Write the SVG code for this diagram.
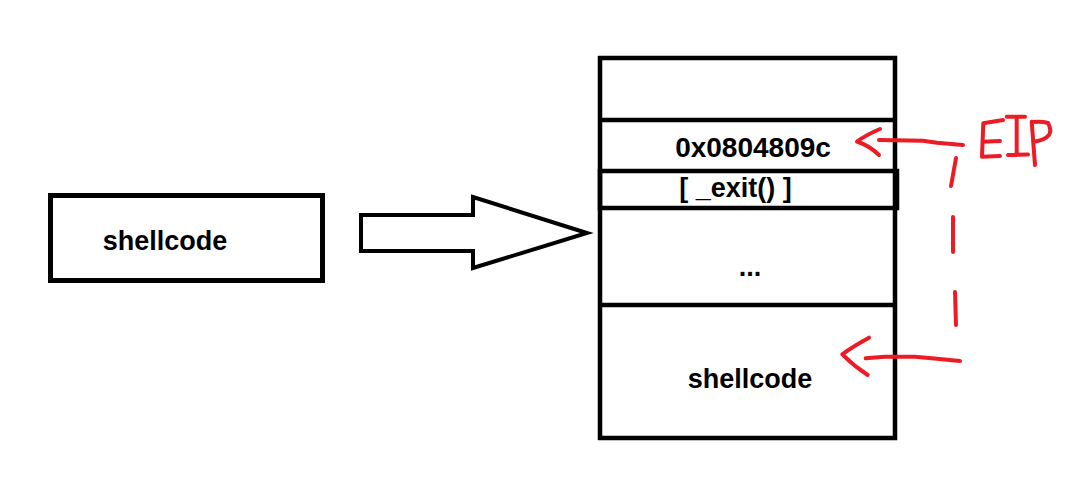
<svg xmlns="http://www.w3.org/2000/svg" width="1071" height="477" viewBox="0 0 1071 477">
<style>
.box{fill:#fff;stroke:#000;stroke-width:4.5}
.ln{stroke:#000;stroke-width:4.5;fill:none}
.t{font-family:"Liberation Sans",Arial,sans-serif;font-weight:bold;font-size:27px;fill:#000;text-anchor:middle}
.red{stroke:#ed1c24;stroke-width:4;fill:none;stroke-linecap:round;stroke-linejoin:round}
</style>
<rect width="1071" height="477" fill="#fff"/>
<g id="shellcode-src">
<rect class="box" x="50.5" y="195.5" width="272" height="85" style="stroke-width:5"/>
<text class="t" x="165" y="250">shellcode</text>
</g>
<g id="connectors">
<polygon class="box" points="361,215 473,215 473,197 587,233 473,268 473,251 361,251" style="stroke-width:4"/>
</g>
<g id="stack">
<rect class="box" x="600" y="58" width="295" height="380"/>
<line class="ln" x1="600" y1="120" x2="895" y2="120"/>
<line class="ln" x1="600" y1="305" x2="895" y2="305"/>
</g>
<g id="ret-addr">
<text class="t" x="753" y="157" style="font-size:28px">0x0804809c</text>
</g>
<g id="exit">
<rect class="box" x="600" y="171" width="297" height="37" style="fill:none"/>
<text class="t" x="735.5" y="197">[ _exit() ]</text>
</g>
<g id="dots">
<text class="t" x="750" y="276">...</text>
</g>
<g id="shellcode-stack">
<text class="t" x="750" y="388">shellcode</text>
</g>
<g id="eip">
<path class="red" d="M880,129 Q866,135 857,141.5 Q870,146 879,155"/>
<path class="red" d="M879,140 L923,140.7 L937,142.7 L963,145"/>
<path class="red" d="M956,158 L951,186 M953,217 L953,252 M955,292 L956,325"/>
<path class="red" d="M869,337.7 Q852,347 842.3,354.3 Q854,366 867.7,375"/>
<path class="red" d="M865.7,358.3 L885,356.7 L915,356.7 L931.7,358.3 L960,361"/>
<path class="red" d="M1003,120 L983.3,123.3 L982,156.7 L1000,156 M983,141.7 L1000,141 M1006.7,116.7 L1025,116.7 M1016.7,117 L1016.7,155 M1008,155 L1028,154.5 M1031.7,121.7 L1035,165 M1032,122 Q1042,121 1048,123 Q1052,130 1049,135 Q1045,140 1034,141.7"/>
</g>
</svg>
